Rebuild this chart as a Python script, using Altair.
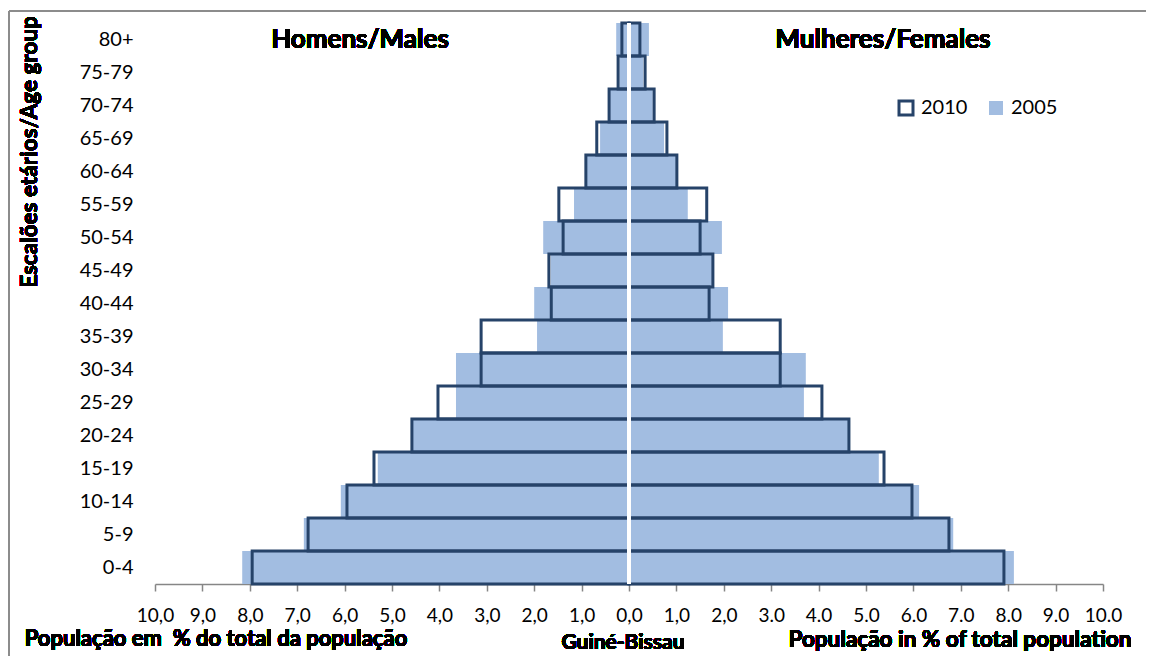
import altair as alt
import pandas as pd

# Age groups, bottom to top
ages = ["0-4", "5-9", "10-14", "15-19", "20-24", "25-29", "30-34", "35-39",
        "40-44", "45-49", "50-54", "55-59", "60-64", "65-69", "70-74", "75-79", "80+"]

males_2005 = [8.16, 6.86, 6.08, 5.30, 4.60, 3.65, 3.65, 1.94, 2.00, 1.65, 1.81, 1.16, 0.90, 0.61, 0.40, 0.20, 0.27]
males_2010 = [7.95, 6.77, 5.95, 5.38, 4.58, 4.03, 3.12, 3.12, 1.64, 1.69, 1.39, 1.48, 0.91, 0.68, 0.42, 0.23, 0.15]
females_2005 = [8.12, 6.84, 6.12, 5.27, 4.62, 3.69, 3.73, 1.98, 2.09, 1.75, 1.96, 1.24, 1.00, 0.74, 0.50, 0.30, 0.42]
females_2010 = [7.91, 6.75, 5.97, 5.38, 4.64, 4.07, 3.19, 3.19, 1.69, 1.77, 1.50, 1.64, 1.01, 0.80, 0.53, 0.34, 0.23]

years = ["2010", "2005"]
x_tick_values = list(range(-10, 11))
x_tick_labels = ["10,0", "9,0", "8,0", "7,0", "6,0", "5,0", "4,0", "3,0", "2,0", "1,0", "0,0",
                 "1,0", "2,0", "3.0", "4.0", "5.0", "6.0", "7.0", "8.0", "9.0", "10.0"]

rows = []
for year, m_vals, f_vals in (("2005", males_2005, females_2005), ("2010", males_2010, females_2010)):
    for a, mv, fv in zip(ages, m_vals, f_vals):
        rows.append({"age": a, "year": year, "sex": "M", "value": -mv})
        rows.append({"age": a, "year": year, "sex": "F", "value": fv})
df = pd.DataFrame(rows)

FONT = "Lato"
NAVY = "#264369"
LIGHT = "#a2bde1"
GRAY = "#868686"

label_expr = "[" + ",".join("'" + s + "'" for s in x_tick_labels) + "][datum.value + 10]"

legend_def = dict(
    title=None, orient="none", legendX=741, legendY=75, direction="horizontal",
    symbolType="square", symbolSize=196, symbolStrokeWidth=3,
    labelFont=FONT, labelFontSize=20, labelColor="black", labelOffset=5,
    columnPadding=15, padding=0,
)

bars = alt.Chart(df).mark_bar(strokeWidth=3).encode(
    x=alt.X("value:Q", stack=None,
            scale=alt.Scale(domain=[-10, 10], nice=False),
            axis=alt.Axis(values=x_tick_values, labelExpr=label_expr, title=None, grid=False,
                          domainColor=GRAY, domainWidth=1.5, tickColor=GRAY, tickWidth=1.5,
                          tickSize=7, labelFontSize=19, labelPadding=15, labelColor="black",
                          labelFont=FONT, labelOverlap=False, labelFlush=False)),
    y=alt.Y("age:N", sort=ages[::-1],
            scale=alt.Scale(paddingInner=0, paddingOuter=0),
            axis=alt.Axis(title=None, domain=False, ticks=False, labelPadding=22,
                          labelFontSize=20, labelColor="black", labelFont=FONT)),
    fill=alt.Fill("year:N", scale=alt.Scale(domain=years, range=["transparent", LIGHT]),
                  legend=alt.Legend(**legend_def)),
    stroke=alt.Stroke("year:N", scale=alt.Scale(domain=years, range=[NAVY, "transparent"]),
                      legend=alt.Legend(**legend_def)),
)

zero_line = alt.Chart(df).mark_rule(color="white", strokeWidth=4).encode(x=alt.datum(0))


def label(text, x, y, size=20, angle=0, baseline="alphabetic"):
    return alt.Chart(df).mark_text(
        text=text, font=FONT, fontSize=size, fontWeight="bold", color="black",
        align="center", baseline=baseline, angle=angle,
    ).encode(x=alt.value(x), y=alt.value(y))


texts = [
    label("Homens/Males", 205, 25, size=26),
    label("Mulheres/Females", 728, 25, size=26),
    label("Escalões etários/Age group", -125, 129, size=22.5, angle=270, baseline="middle"),
    label("População em\u00a0 % do total da população", 61, 623, size=22),
    label("Guiné-Bissau", 468, 626, size=21),
    label("População in % of total population", 805, 624, size=22.5),
]

border_v = alt.Chart(df).mark_rule(color="#8c8c8c", strokeWidth=2).encode(
    x=alt.value(-146), y=alt.value(-12), y2=alt.value(640))
border_h = alt.Chart(df).mark_rule(color="#8c8c8c", strokeWidth=2).encode(
    x=alt.value(-146), x2=alt.value(991), y=alt.value(-12))

chart = alt.layer(bars, zero_line, *texts, border_v, border_h).properties(
    width=948, height=561,
    autosize=alt.AutoSizeParams(type="none"),
    padding={"left": 147, "top": 15, "right": 43, "bottom": 72},
).configure_view(stroke=None)

chart.save("out.html", embed_options={"renderer": "svg", "actions": False})
